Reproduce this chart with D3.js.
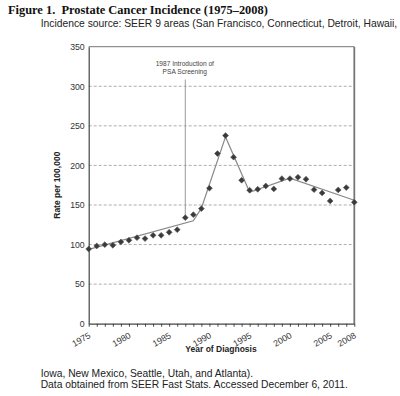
<!DOCTYPE html>
<html>
<head>
<meta charset="utf-8">
<script src="https://cdn.jsdelivr.net/npm/d3@7"></script>
<style>
  body { margin: 0; background: #fff; }
  svg { display: block; }
  .tick text { font-family: "Liberation Sans", Arial, sans-serif; fill: #333; }
</style>
</head>
<body>
<svg id="chart" width="400" height="396"></svg>
<script>
// observed incidence, per 100,000
const years = [1975, 1976, 1977, 1978, 1979, 1980, 1981, 1982, 1983, 1984, 1985, 1986, 1987, 1988, 1989, 1990,
               1991, 1992, 1993, 1994, 1995, 1996, 1997, 1998, 1999, 2000, 2001, 2002, 2003, 2004, 2005, 2006, 2007, 2008];
const rates = [94.4, 98.2, 99.9, 99.1, 103.3, 105.4, 108.7, 107.5, 111.7, 111.7, 115.5, 118.8, 134, 137.8, 145.4, 171.2,
               215, 237.7, 210.4, 181.3, 168.6, 169.9, 174, 170.3, 183.3, 183.3, 185, 182.5, 169.4, 165.2, 155.1, 169, 172, 153.5];

// joinpoint trend line
const trendYears = [1975, 1988, 1989, 1992, 1995, 2000, 2008];
const trendRates = [94, 130, 146, 236, 166, 184, 156];

const yTicks = [0, 50, 100, 150, 200, 250, 300, 350];
const gridValues = [50, 100, 150, 200, 250, 300];
const xLabelYears = [1975, 1980, 1985, 1990, 1995, 2000, 2005, 2008];
const psaYear = 1987;

const svg = d3.select("#chart");
const plotLeft = 88.7, plotRight = 354.3, plotTop = 46.7, plotBottom = 323.7;

const x = d3.scaleLinear().domain([1975, 2008]).range([plotLeft, plotRight]);
const y = d3.scaleLinear().domain([0, 350]).range([plotBottom, plotTop]);

// title lines
svg.append("text")
    .attr("x", 8).attr("y", 14)
    .attr("font-family", "Liberation Serif, Times New Roman, serif")
    .attr("font-weight", "bold")
    .attr("font-size", 12.4)
    .attr("fill", "#111")
    .text("Figure 1.\u00a0\u00a0Prostate Cancer Incidence (1975\u20132008)");

svg.append("text")
    .attr("x", 40.7).attr("y", 26.5)
    .attr("font-family", "Liberation Sans, Arial, sans-serif")
    .attr("font-size", 10.3)
    .attr("fill", "#222")
    .text("Incidence source: SEER 9 areas (San Francisco, Connecticut, Detroit, Hawaii,");

svg.append("text")
    .attr("x", 40.7).attr("y", 376.7)
    .attr("font-family", "Liberation Sans, Arial, sans-serif")
    .attr("font-size", 10.3)
    .attr("fill", "#222")
    .text("Iowa, New Mexico, Seattle, Utah, and Atlanta).");

svg.append("text")
    .attr("x", 40.7).attr("y", 387.5)
    .attr("font-family", "Liberation Sans, Arial, sans-serif")
    .attr("font-size", 10.3)
    .attr("fill", "#222")
    .text("Data obtained from SEER Fast Stats. Accessed December 6, 2011.");

// gridlines
svg.append("g")
    .selectAll("line")
    .data(gridValues)
    .enter()
    .append("line")
    .attr("x1", plotLeft).attr("x2", plotRight)
    .attr("y1", d => y(d)).attr("y2", d => y(d))
    .attr("stroke", "#999")
    .attr("stroke-width", 0.8)
    .attr("stroke-dasharray", "3,2");

// frame top and right
svg.append("line")
    .attr("x1", plotLeft).attr("x2", plotRight)
    .attr("y1", plotTop).attr("y2", plotTop)
    .attr("stroke", "#777").attr("stroke-width", 1);
svg.append("line")
    .attr("x1", plotRight).attr("x2", plotRight)
    .attr("y1", plotTop).attr("y2", plotBottom)
    .attr("stroke", "#777").attr("stroke-width", 1.8);

// y axis
const yAxis = svg.append("g")
    .attr("transform", "translate(" + plotLeft + ",0)")
    .call(d3.axisLeft(y).tickValues(yTicks).tickSize(0).tickPadding(4));
yAxis.select(".domain").attr("stroke", "#444").attr("stroke-width", 1.2);
yAxis.selectAll("text").attr("font-size", 8.7);

// x axis with yearly ticks
const xAxis = svg.append("g")
    .attr("transform", "translate(0," + plotBottom + ")")
    .call(d3.axisBottom(x).tickValues(years).tickSize(3).tickSizeOuter(0).tickFormat(""));
xAxis.select(".domain").attr("stroke", "#444").attr("stroke-width", 1.2);
xAxis.selectAll(".tick line").attr("stroke", "#444");

svg.append("g")
    .selectAll("text")
    .data(xLabelYears)
    .enter()
    .append("text")
    .attr("transform", d => "translate(" + (x(d) + 2.5) + "," + (plotBottom + 13.5) + ") rotate(-30)")
    .attr("text-anchor", "end")
    .attr("font-family", "Liberation Sans, Arial, sans-serif")
    .attr("font-size", 8.8)
    .attr("fill", "#333")
    .text(d => d);

// axis titles
svg.append("text")
    .attr("transform", "translate(60," + ((plotTop + plotBottom) / 2) + ") rotate(-90)")
    .attr("text-anchor", "middle")
    .attr("font-family", "Liberation Sans, Arial, sans-serif")
    .attr("font-weight", "bold")
    .attr("font-size", 8.5)
    .attr("fill", "#222")
    .text("Rate per 100,000");

svg.append("text")
    .attr("x", 221).attr("y", 352)
    .attr("text-anchor", "middle")
    .attr("font-family", "Liberation Sans, Arial, sans-serif")
    .attr("font-weight", "bold")
    .attr("font-size", 8.5)
    .attr("fill", "#222")
    .text("Year of Diagnosis");

// PSA marker line + note
const psaRate = rates[years.indexOf(psaYear)];
svg.append("line")
    .attr("x1", x(psaYear)).attr("x2", x(psaYear))
    .attr("y1", 79.5).attr("y2", y(psaRate) - 2)
    .attr("stroke", "#999").attr("stroke-width", 1);

const note = svg.append("text")
    .attr("text-anchor", "middle")
    .attr("font-family", "Liberation Sans, Arial, sans-serif")
    .attr("font-size", 6.6)
    .attr("fill", "#444");
note.append("tspan").attr("x", x(psaYear) - 0.5).attr("y", 65.5).text("1987 Introduction of");
note.append("tspan").attr("x", x(psaYear) - 0.5).attr("y", 73.5).text("PSA Screening");

// trend line
const trendData = trendYears.map((d, i) => [d, trendRates[i]]);
svg.append("path")
    .datum(trendData)
    .attr("d", d3.line().x(d => x(d[0])).y(d => y(d[1])))
    .attr("fill", "none")
    .attr("stroke", "#888")
    .attr("stroke-width", 1.2);

// observed points
const sym = d3.symbol().type(d3.symbolSquare).size(17);
svg.append("g")
    .selectAll("path")
    .data(years)
    .enter()
    .append("path")
    .attr("d", sym)
    .attr("transform", (d, i) => "translate(" + x(d) + "," + y(rates[i]) + ") rotate(45)")
    .attr("fill", "#3a3a3a")
    .attr("stroke", "#555")
    .attr("stroke-width", 0.6);
</script>
</body>
</html>
